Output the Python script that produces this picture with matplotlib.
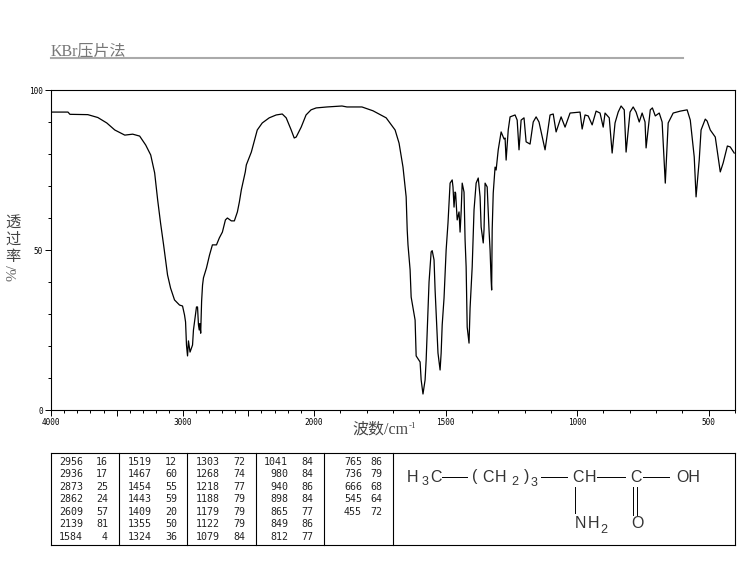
import numpy as np
import matplotlib
matplotlib.use("Agg")
import matplotlib.pyplot as plt

plt.rcParams['font.family'] = ['Liberation Serif', 'Noto Sans CJK SC']

# IR spectrum: wavenumber (cm-1) and transmittance (%)
wavenumber = [
    4000, 3871, 3856, 3720, 3644, 3576, 3515, 3439, 3379, 3326, 3280, 3242, 3212, 3189, 3167, 3144,
    3114, 3091, 3061, 3023, 3000, 2985, 2977, 2970, 2962, 2955, 2943, 2924, 2917, 2894, 2886, 2879,
    2873, 2868, 2862, 2855, 2848, 2841, 2818, 2795, 2773, 2742, 2720, 2697, 2674, 2659, 2629, 2606,
    2583, 2568, 2553, 2523, 2515, 2477, 2432, 2394, 2341, 2288, 2242, 2212, 2174, 2151, 2136, 2098,
    2061, 2023, 1992, 1951, 1894, 1875, 1818, 1776, 1726, 1692, 1677, 1662, 1650, 1646, 1643, 1635,
    1631, 1616, 1612, 1597, 1593, 1586, 1578, 1574, 1567, 1563, 1555, 1551, 1544, 1540, 1529, 1521,
    1517, 1513, 1506, 1498, 1491, 1483, 1475, 1472, 1468, 1464, 1462, 1456, 1449, 1445, 1441, 1437,
    1430, 1426, 1422, 1418, 1411, 1407, 1399, 1392, 1384, 1376, 1369, 1365, 1357, 1354, 1350, 1342,
    1335, 1331, 1327, 1325, 1323, 1319, 1312, 1308, 1300, 1289, 1278, 1274, 1270, 1262, 1255, 1236,
    1228, 1221, 1213, 1202, 1194, 1179, 1167, 1156, 1145, 1122, 1103, 1091, 1080, 1061, 1046, 1027,
    989, 981, 970, 958, 943, 928, 913, 901, 894, 878, 867, 856, 844, 833, 821, 814,
    799, 787, 776, 764, 753, 742, 738, 722, 714, 703, 688, 677, 665, 654, 635, 608,
    582, 570, 555, 548, 536, 529, 513, 506, 494, 475, 456, 445, 429, 418, 403,
]
transmittance = [
    93.1, 93.1, 92.4, 92.3, 91.4, 89.7, 87.5, 85.9, 86.2, 85.6, 82.8, 79.7, 74.1, 65.6, 58.4, 51.6,
    42.2, 38.1, 34.4, 32.8, 32.5, 29.7, 27.5, 20.3, 16.9, 21.6, 18.1, 20.3, 25.0, 32.2, 32.2, 26.6,
    25.0, 27.0, 24.0, 34.0, 39.0, 41.3, 44.4, 48.4, 51.6, 51.6, 53.8, 55.6, 59.4, 60.0, 59.1, 59.1,
    61.9, 65.0, 68.8, 74.4, 76.6, 80.6, 87.5, 89.7, 91.3, 92.2, 92.5, 91.3, 87.5, 85.0, 85.3, 88.4,
    92.2, 93.8, 94.4, 94.7, 95.0, 94.7, 94.7, 93.5, 91.3, 87.5, 83.4, 75.9, 66.6, 56.3, 51.6, 43.8,
    35.3, 28.1, 16.9, 15.0, 9.4, 5.0, 9.4, 15.6, 31.3, 40.0, 49.4, 49.8, 46.9, 37.5, 17.8, 12.5,
    17.8, 26.6, 35.0, 50.0, 58.4, 70.9, 71.9, 69.7, 63.4, 68.1, 67.8, 59.4, 61.9, 55.6, 61.9, 70.9,
    68.1, 53.1, 44.7, 25.9, 20.9, 31.9, 44.7, 62.5, 70.9, 72.5, 66.6, 57.2, 52.2, 56.3, 70.9, 69.7,
    56.3, 50.0, 40.6, 37.5, 56.3, 67.8, 75.9, 75.0, 81.3, 86.9, 84.7, 85.0, 78.1, 87.5, 91.6, 92.2,
    90.6, 81.3, 90.6, 91.3, 83.8, 83.1, 90.0, 91.6, 90.0, 81.3, 92.2, 92.5, 86.9, 91.6, 88.4, 92.8,
    93.1, 87.8, 92.2, 91.9, 89.1, 93.4, 92.8, 88.4, 92.8, 91.3, 80.3, 89.7, 93.1, 95.0, 93.8, 80.6,
    93.1, 94.7, 93.1, 90.0, 92.8, 90.0, 81.9, 93.8, 94.4, 91.9, 92.8, 90.0, 70.9, 89.7, 92.8, 93.4,
    93.8, 90.6, 79.1, 66.6, 78.1, 87.5, 90.9, 90.3, 87.5, 85.3, 74.4, 77.2, 82.5, 82.2, 80.3,
]

x_ticks = [4000, 3500, 3000, 2500, 2000, 1500, 1000, 500]
x_labels = ["4000", "", "3000", "", "2000", "1500", "1000", "500"]
x_minor = [3900, 3800, 3700, 3600, 3400, 3300, 3200, 3100, 2900, 2800, 2700, 2600, 2400,
           2300, 2200, 2100, 1900, 1800, 1700, 1600, 1400, 1300, 1200, 1100, 900, 800, 700, 600, 400]
y_ticks = [0, 50, 100]
y_minor = [10, 20, 30, 40, 60, 70, 80, 90]

# peak table, one list per column
peak_cols = [
    ["2956", "2936", "2873", "2862", "2609", "2139", "1584"],
    ["1519", "1467", "1454", "1443", "1409", "1355", "1324"],
    ["1303", "1268", "1218", "1188", "1179", "1122", "1079"],
    ["1041", "980", "940", "898", "865", "849", "812"],
    ["765", "736", "666", "545", "455"],
]
peak_vals = [
    ["16", "17", "25", "24", "57", "81", "4"],
    ["12", "60", "55", "59", "20", "50", "36"],
    ["72", "74", "77", "79", "79", "79", "84"],
    ["84", "84", "86", "84", "77", "86", "77"],
    ["86", "79", "68", "64", "72"],
]


def forward(w):
    w = np.asarray(w, dtype=float)
    return np.where(w >= 2000, w, 2 * w - 2000)


def inverse(v):
    v = np.asarray(v, dtype=float)
    return np.where(v >= 2000, v, (v + 2000) / 2)


W, H = 748, 567
fig = plt.figure(figsize=(W / 100, H / 100), dpi=100)

# full-figure overlay in pixel coordinates for title, table and structure
bg = fig.add_axes([0, 0, 1, 1])
bg.set_xlim(0, W)
bg.set_ylim(H, 0)
bg.axis('off')

ax = fig.add_axes([51 / W, (H - 410) / H, (735 - 51) / W, 320 / H])
ax.set_xscale('function', functions=(forward, inverse))
ax.plot(wavenumber, transmittance, color='black', lw=0.9)
ax.set_xlim(4000, 403)
ax.set_ylim(0, 100)
ax.patch.set_alpha(0)

ax.set_xticks(x_ticks, x_labels)
ax.set_xticks(x_minor, minor=True)
ax.set_yticks(y_ticks)
ax.set_yticks(y_minor, minor=True)
ax.tick_params(axis='both', which='major', labelsize=5.6, width=0.7, length=4, pad=2)
ax.tick_params(axis='both', which='minor', width=0.7, length=2)
for label in ax.get_xticklabels() + ax.get_yticklabels():
    label.set_fontfamily('DejaVu Sans Mono')
for spine in ax.spines.values():
    spine.set_linewidth(0.8)

# title and its grey rule
bg.text(51, 51, "KBr压片法", fontsize=11.5, color='#777777', va='center', ha='left')
bg.plot([51, 683], [57.7, 57.7], color='#aaaaaa', lw=1.5)

# axis titles
bg.text(13, 223, "透", fontsize=11, color='#444444', ha='center', va='center')
bg.text(13, 240, "过", fontsize=11, color='#444444', ha='center', va='center')
bg.text(13, 257, "率", fontsize=11, color='#444444', ha='center', va='center')
bg.text(13, 273, "%/", fontsize=11, color='#666666', ha='center', va='center', rotation=90)
bg.text(352, 430, "波数/cm", fontsize=11.5, color='#444444', ha='left', va='center')
bg.text(409, 426, "-1", fontsize=6.5, color='#444444', ha='left', va='center')

# peak table frame
for y in (453, 545):
    bg.plot([51, 735], [y, y], color='black', lw=0.8)
for x in (51, 119.5, 187.5, 256.5, 324, 393, 735):
    bg.plot([x, x], [453, 545], color='black', lw=0.8)

row_y = [462, 474, 487, 499, 512, 524, 537]
wn_right = [83, 152, 220, 288, 362]
val_right = [108, 177, 245, 313, 382]
for c in range(len(peak_cols)):
    for r in range(len(peak_cols[c])):
        bg.text(wn_right[c], row_y[r], peak_cols[c][r], family='DejaVu Sans Mono', fontsize=7.2,
                ha='right', va='center', color='#222222')
        bg.text(val_right[c], row_y[r], peak_vals[c][r], family='DejaVu Sans Mono', fontsize=7.2,
                ha='right', va='center', color='#222222')

# structural formula
sty = dict(family='Liberation Sans', fontsize=11.5, color='#333333', va='center', ha='center')
sub = dict(family='Liberation Sans', fontsize=9, color='#333333', va='center', ha='center')
bg.text(413, 477, "H", **sty)
bg.text(425, 482, "3", **sub)
bg.text(436, 477, "C", **sty)
bg.plot([442, 467], [477, 477], color='black', lw=0.7)
bg.text(475, 477, "(", **sty)
bg.text(488, 477, "C", **sty)
bg.text(501, 477, "H", **sty)
bg.text(515, 482, "2", **sub)
bg.text(527, 477, ")", **sty)
bg.text(534, 483, "3", **sub)
bg.plot([541, 567], [477, 477], color='black', lw=0.7)
bg.text(578, 477, "C", **sty)
bg.text(591, 477, "H", **sty)
bg.plot([597, 625], [477, 477], color='black', lw=0.7)
bg.text(636, 477, "C", **sty)
bg.plot([643, 669], [477, 477], color='black', lw=0.7)
bg.text(688, 477, "OH", **sty)
bg.plot([575, 575], [487, 513], color='black', lw=0.7)
bg.plot([633, 633], [487, 515], color='black', lw=0.7)
bg.plot([637, 637], [487, 515], color='black', lw=0.7)
bg.text(580, 524, "N", **sty)
bg.text(594, 524, "H", **sty)
bg.text(604, 530, "2", **sub)
bg.text(637, 524, "O", **sty)

fig.savefig("out.png", dpi=100)
